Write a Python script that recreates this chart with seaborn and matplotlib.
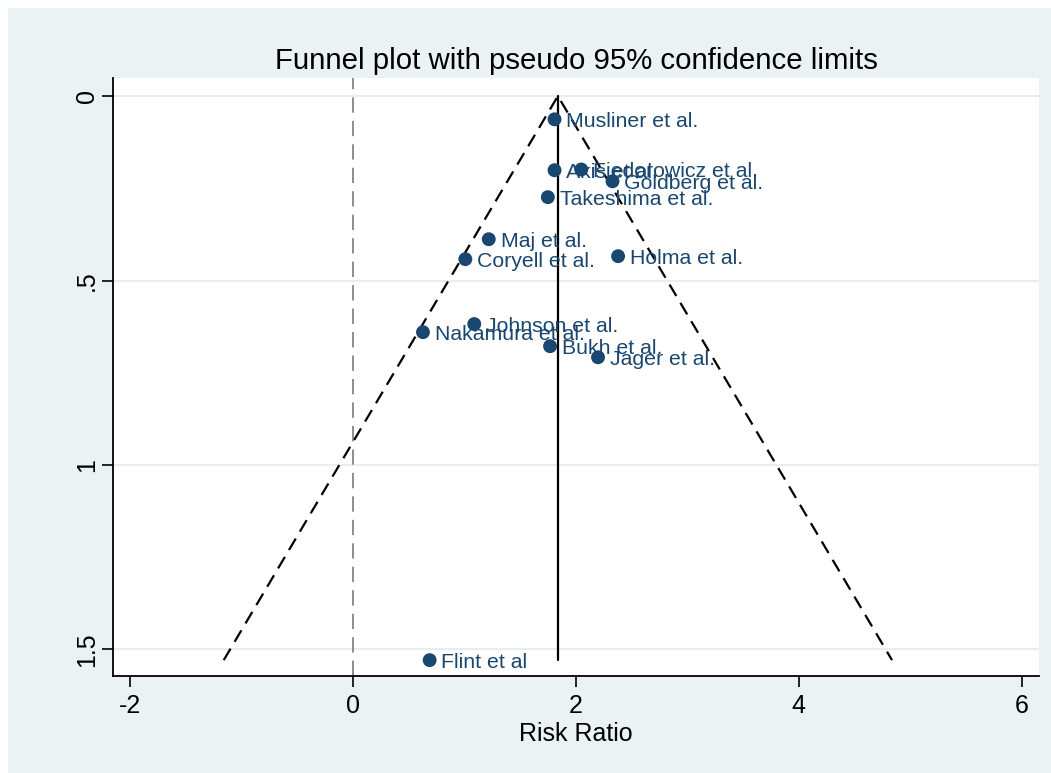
import numpy as np
import pandas as pd
import matplotlib
matplotlib.use("Agg")
import matplotlib.pyplot as plt
from matplotlib.patches import Rectangle
import seaborn as sns

# ---- data ----
studies = ["Musliner et al.", "Akis et al.", "Fiedorowicz et al.", "Goldberg et al.",
           "Takeshima et al.", "Maj et al.", "Holma et al.", "Coryell et al.",
           "Johnson et al.", "Nakamura et al.", "Bukh et al.", "Jager et al.", "Flint et al"]
effect = [1.81, 1.81, 2.05, 2.33, 1.75, 1.22, 2.38, 1.01, 1.09, 0.63, 1.77, 2.20, 0.69]
se = [0.063, 0.201, 0.199, 0.231, 0.274, 0.388, 0.434, 0.442, 0.618, 0.640, 0.678, 0.708, 1.529]
pooled = 1.84
xticks = [-2, 0, 2, 4, 6]
yticks = [0, 0.5, 1, 1.5]
ytick_labels = ["0", ".5", "1", "1.5"]
title = "Funnel plot with pseudo 95% confidence limits"
xlabel = "Risk Ratio"

df = pd.DataFrame({"study": studies, "effect": effect, "se": se})

BG = "#EAF2F3"
NAVY = "#1A476F"

sns.set_style("white")
plt.rcParams["font.family"] = ["Liberation Sans", "DejaVu Sans"]
plt.rcParams["text.color"] = "black"
plt.rcParams["axes.labelcolor"] = "black"
plt.rcParams["xtick.color"] = "black"
plt.rcParams["ytick.color"] = "black"

fig = plt.figure(figsize=(10.51, 7.73), dpi=100, facecolor="white")
fig.patches.append(Rectangle((8 / 1051, 0), 1, 1 - 8 / 773, transform=fig.transFigure,
                             facecolor=BG, edgecolor="none", zorder=-10))
ax = fig.add_axes([113 / 1051, 1 - 676 / 773, (1039 - 113) / 1051, (676 - 78) / 773])
ax.set_facecolor("white")

# gridlines
for yv in yticks:
    ax.axhline(yv, color="#E4EDF0", lw=1.3, zorder=0)

# reference line at 0
ax.axvline(0, color="#858585", lw=1.3, dashes=(8.5, 4.5), zorder=1)

# funnel
se_max = max(se)
ax.plot([pooled - 1.96 * se_max, pooled, pooled + 1.96 * se_max], [se_max, 0, se_max],
        color="black", lw=1.6, dashes=(6, 3.6), zorder=2)
ax.plot([pooled, pooled], [0, se_max], color="black", lw=1.6, zorder=2)

sns.scatterplot(data=df, x="effect", y="se", ax=ax, color=NAVY, s=100,
                edgecolor="none", zorder=3, legend=False)
for _, r in df.iterrows():
    ax.annotate(r["study"], (r["effect"], r["se"]), xytext=(8.5, -1.5),
                textcoords="offset points", va="center", ha="left",
                color=NAVY, fontsize=15.3, zorder=4)

ax.set_xlim(-2.15, 6.155)
ax.set_ylim(1.572, -0.049)
ax.set_xticks(xticks)
ax.set_xticklabels([str(v) for v in xticks])
ax.set_yticks(yticks)
ax.set_yticklabels(ytick_labels, rotation=90, va="center")
ax.tick_params(axis="both", direction="out", length=8, width=1.2, color="black",
               labelcolor="black", labelsize=18)
ax.tick_params(axis="x", pad=5)
ax.tick_params(axis="y", pad=2)
ax.tick_params(axis="both", which="both", left=True, bottom=True)

for s in ["top", "right"]:
    ax.spines[s].set_visible(False)
for s in ["left", "bottom"]:
    ax.spines[s].set_color("black")
    ax.spines[s].set_linewidth(1.3)

ax.set_xlabel(xlabel, fontsize=18, labelpad=3, color="black")
ax.set_ylabel("")
ax.set_title(title, fontsize=21.2, pad=6.5, color="black")

fig.savefig("out.png", dpi=100, facecolor=fig.get_facecolor())
